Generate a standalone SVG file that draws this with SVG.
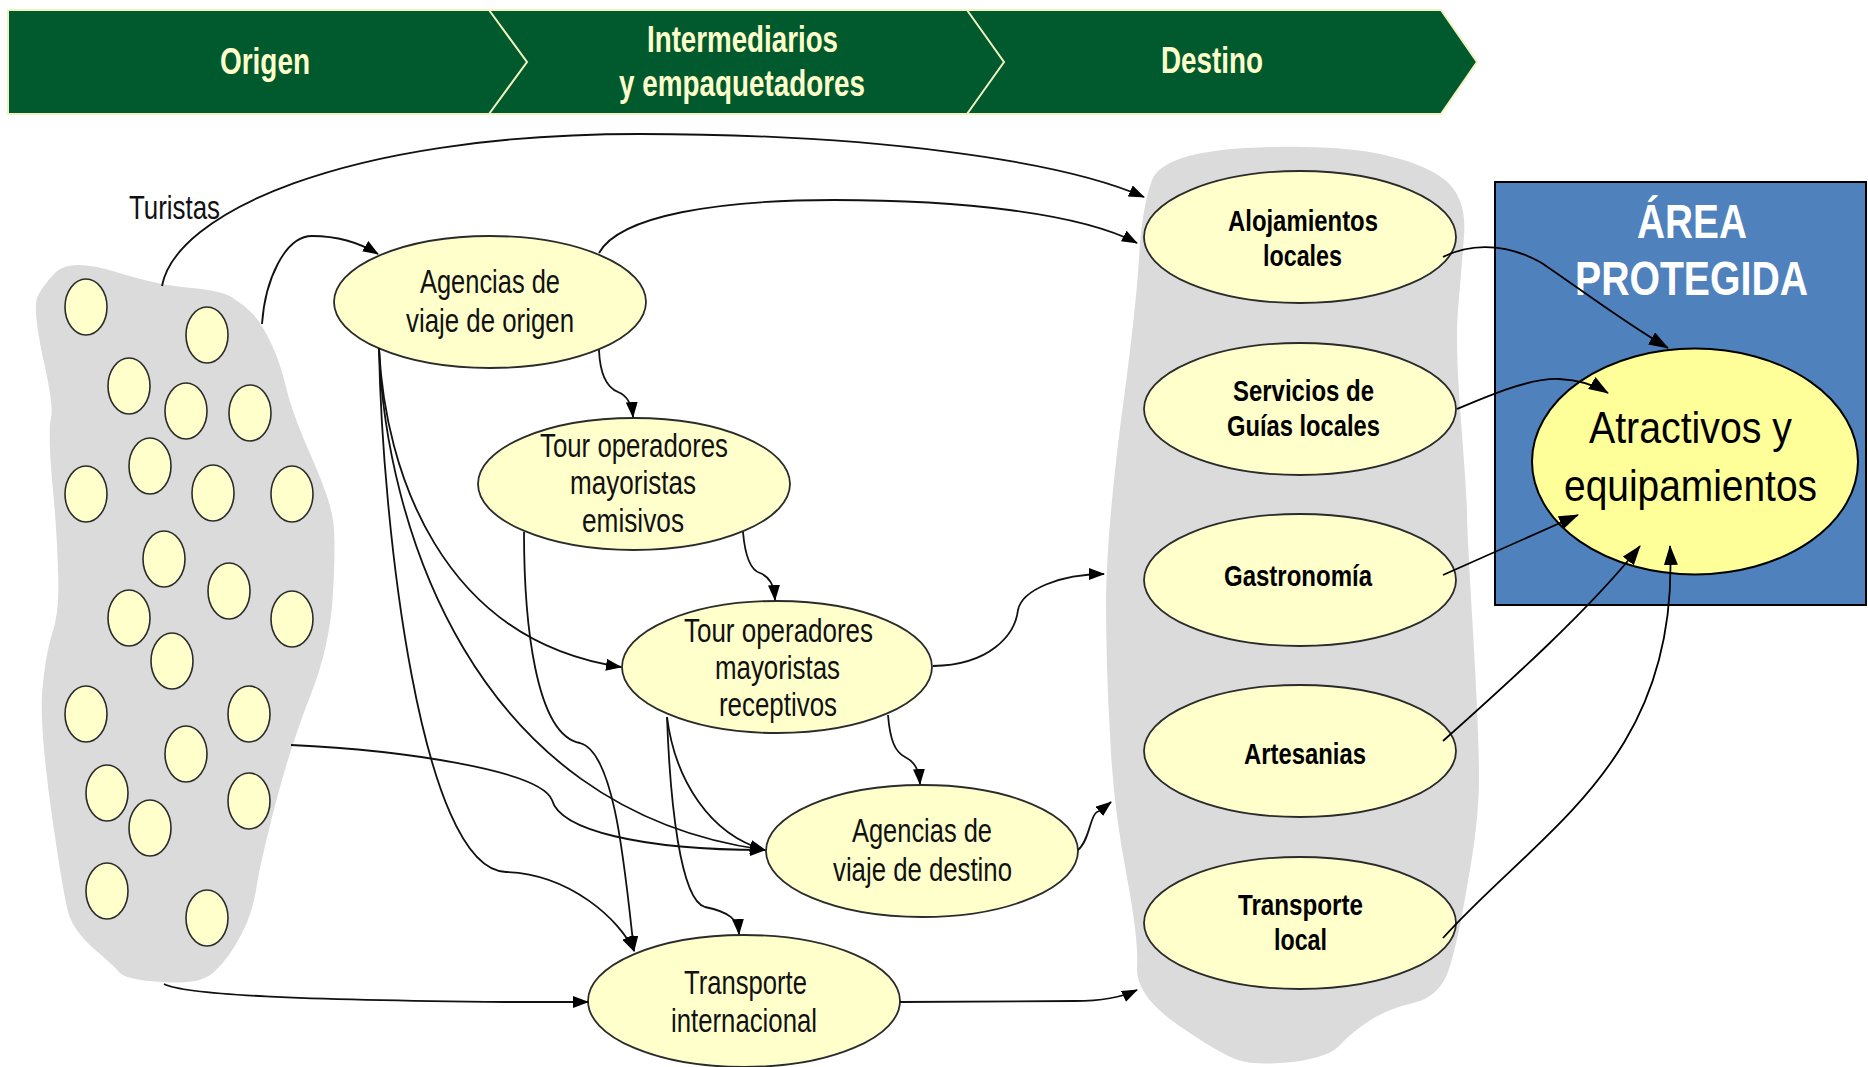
<svg xmlns="http://www.w3.org/2000/svg" width="1868" height="1067" viewBox="0 0 1868 1067">
<defs>
<style>
text{font-family:"Liberation Sans",Arial,sans-serif;text-anchor:start}
.n{fill:#FFFFCC;stroke:#2b2b2b;stroke-width:1.8}
.t{fill:#FFFFCC;stroke:#2b2b2b;stroke-width:1.6}
.blob{fill:#DBDBDB}
.r{font-size:34px;fill:#111}
.b{font-size:30px;font-weight:bold;fill:#000}
.h{font-size:37px;font-weight:bold;fill:#FFFFCC}
.a{font-size:49px;font-weight:bold;fill:#fff}
.y{font-size:45px;fill:#000}
.c{fill:none;stroke:#111;stroke-width:1.8;marker-end:url(#m)}
.c2{fill:none;stroke:#000;stroke-width:1.8;marker-end:url(#m2)}
</style>
<marker id="m" viewBox="0 0 16 12" refX="15" refY="6" markerWidth="16" markerHeight="12" markerUnits="userSpaceOnUse" orient="auto"><path d="M0 0L16 6L0 12Z" fill="#000"/></marker>
<marker id="m2" viewBox="0 0 20 14" refX="19" refY="7" markerWidth="20" markerHeight="14" markerUnits="userSpaceOnUse" orient="auto"><path d="M0 0L20 7L0 14Z" fill="#000"/></marker>
</defs>
<rect width="1868" height="1067" fill="#fff"/>
<g id="banner">
<path d="M8 10H1441L1477 62L1441 114H8Z" fill="#005A2E" stroke="#F2F2C0" stroke-width="2"/>
<path d="M489 10L527 62L489 114M967 10L1004 62L967 114" fill="none" stroke="#F2F2C0" stroke-width="2"/>
<text class="h" x="220" y="74" textLength="90" lengthAdjust="spacingAndGlyphs">Origen</text>
<text class="h" x="647" y="52" textLength="191" lengthAdjust="spacingAndGlyphs">Intermediarios</text>
<text class="h" x="619" y="96" textLength="246" lengthAdjust="spacingAndGlyphs">y empaquetadores</text>
<text class="h" x="1161" y="73" textLength="102" lengthAdjust="spacingAndGlyphs">Destino</text>
</g>
<path id="blob-origen" class="blob" d="M56 272Q71 258 116 272Q161 286 192 288Q223 291 233 298Q244 305 253 314Q262 324 271 343Q280 362 286 387Q292 413 311 456Q330 499 333 520Q336 540 333 593Q330 646 311 694Q292 742 277 798Q262 855 257 884Q253 913 241 935Q229 958 215 971Q202 985 164 982Q125 980 119 972Q113 965 93 948Q74 931 69 915Q64 900 52 816Q40 732 42 694Q45 657 52 634Q60 612 58 571Q57 530 52 480Q48 430 51 418Q54 406 43 358Q33 310 37 298Q42 286 56 272Z"/>
<path id="blob-destino" class="blob" d="M1152 180Q1163 153 1245 148Q1327 144 1375 153Q1422 162 1445 180Q1467 198 1464 236Q1461 275 1458 310Q1455 344 1461 421Q1467 499 1467 515Q1467 530 1473 632Q1479 735 1479 778Q1479 821 1468 881Q1458 941 1449 969Q1440 997 1413 1003Q1387 1009 1369 1021Q1351 1033 1340 1045Q1330 1057 1293 1062Q1256 1066 1238 1060Q1220 1054 1178 1025Q1136 996 1137 968Q1139 941 1126 872Q1113 804 1110 735Q1106 667 1106 598Q1107 530 1121 420Q1136 310 1139 258Q1142 207 1152 180Z"/>
<g id="turistas">
<text class="r" x="129" y="219" textLength="91" lengthAdjust="spacingAndGlyphs">Turistas</text>
<ellipse class="t" cx="86" cy="307" rx="21" ry="28"/><ellipse class="t" cx="207" cy="335" rx="21" ry="28"/>
<ellipse class="t" cx="129" cy="386" rx="21" ry="28"/><ellipse class="t" cx="186" cy="411" rx="21" ry="28"/>
<ellipse class="t" cx="250" cy="413" rx="21" ry="28"/><ellipse class="t" cx="150" cy="466" rx="21" ry="28"/>
<ellipse class="t" cx="86" cy="494" rx="21" ry="28"/><ellipse class="t" cx="213" cy="493" rx="21" ry="28"/>
<ellipse class="t" cx="292" cy="494" rx="21" ry="28"/><ellipse class="t" cx="164" cy="559" rx="21" ry="28"/>
<ellipse class="t" cx="229" cy="591" rx="21" ry="28"/><ellipse class="t" cx="129" cy="618" rx="21" ry="28"/>
<ellipse class="t" cx="292" cy="619" rx="21" ry="28"/><ellipse class="t" cx="172" cy="661" rx="21" ry="28"/>
<ellipse class="t" cx="86" cy="714" rx="21" ry="28"/><ellipse class="t" cx="249" cy="714" rx="21" ry="28"/>
<ellipse class="t" cx="186" cy="754" rx="21" ry="28"/><ellipse class="t" cx="107" cy="793" rx="21" ry="28"/>
<ellipse class="t" cx="249" cy="801" rx="21" ry="28"/><ellipse class="t" cx="150" cy="828" rx="21" ry="28"/>
<ellipse class="t" cx="107" cy="891" rx="21" ry="28"/><ellipse class="t" cx="207" cy="918" rx="21" ry="28"/>
</g>
<g id="agencias-origen"><ellipse class="n" cx="490" cy="302" rx="156" ry="66"/>
<text class="r" x="420" y="293" textLength="140" lengthAdjust="spacingAndGlyphs">Agencias de</text>
<text class="r" x="406" y="332" textLength="168" lengthAdjust="spacingAndGlyphs">viaje de origen</text></g>
<g id="tour-emisivos"><ellipse class="n" cx="634" cy="484" rx="156" ry="66"/>
<text class="r" x="540" y="457" textLength="188" lengthAdjust="spacingAndGlyphs">Tour operadores</text>
<text class="r" x="570" y="494" textLength="126" lengthAdjust="spacingAndGlyphs">mayoristas</text>
<text class="r" x="582" y="532" textLength="102" lengthAdjust="spacingAndGlyphs">emisivos</text></g>
<g id="tour-receptivos"><ellipse class="n" cx="777" cy="667" rx="155" ry="66"/>
<text class="r" x="684" y="642" textLength="189" lengthAdjust="spacingAndGlyphs">Tour operadores</text>
<text class="r" x="715" y="679" textLength="125" lengthAdjust="spacingAndGlyphs">mayoristas</text>
<text class="r" x="719" y="716" textLength="118" lengthAdjust="spacingAndGlyphs">receptivos</text></g>
<g id="agencias-destino"><ellipse class="n" cx="922" cy="851" rx="156" ry="66"/>
<text class="r" x="852" y="842" textLength="140" lengthAdjust="spacingAndGlyphs">Agencias de</text>
<text class="r" x="833" y="881" textLength="179" lengthAdjust="spacingAndGlyphs">viaje de destino</text></g>
<g id="transporte-internacional"><ellipse class="n" cx="744" cy="1001" rx="156" ry="66"/>
<text class="r" x="684" y="994" textLength="123" lengthAdjust="spacingAndGlyphs">Transporte</text>
<text class="r" x="671" y="1032" textLength="146" lengthAdjust="spacingAndGlyphs">internacional</text></g>
<g id="alojamientos"><ellipse class="n" cx="1300" cy="237" rx="156" ry="66"/>
<text class="b" x="1228" y="231" textLength="150" lengthAdjust="spacingAndGlyphs">Alojamientos</text>
<text class="b" x="1263" y="266" textLength="79" lengthAdjust="spacingAndGlyphs">locales</text></g>
<g id="guias"><ellipse class="n" cx="1300" cy="409" rx="156" ry="66"/>
<text class="b" x="1233" y="401" textLength="141" lengthAdjust="spacingAndGlyphs">Servicios de</text>
<text class="b" x="1227" y="436" textLength="153" lengthAdjust="spacingAndGlyphs">Guías locales</text></g>
<g id="gastronomia"><ellipse class="n" cx="1300" cy="580" rx="156" ry="66"/>
<text class="b" x="1224" y="586" textLength="148" lengthAdjust="spacingAndGlyphs">Gastronomía</text></g>
<g id="artesanias"><ellipse class="n" cx="1300" cy="751" rx="156" ry="66"/>
<text class="b" x="1244" y="764" textLength="122" lengthAdjust="spacingAndGlyphs">Artesanias</text></g>
<g id="transporte-local"><ellipse class="n" cx="1300" cy="923" rx="156" ry="66"/>
<text class="b" x="1238" y="915" textLength="125" lengthAdjust="spacingAndGlyphs">Transporte</text>
<text class="b" x="1274" y="950" textLength="53" lengthAdjust="spacingAndGlyphs">local</text></g>
<g id="area-protegida">
<rect x="1495" y="182" width="371" height="423" fill="#4F81BD" stroke="#000" stroke-width="2"/>
<text class="a" x="1637" y="238" textLength="110" lengthAdjust="spacingAndGlyphs">ÁREA</text>
<text class="a" x="1575" y="295" textLength="233" lengthAdjust="spacingAndGlyphs">PROTEGIDA</text>
</g>
<g id="atractivos"><ellipse cx="1695" cy="461.5" rx="163" ry="113" fill="#FFFF99" stroke="#000" stroke-width="2"/>
<text class="y" x="1589" y="443" textLength="203" lengthAdjust="spacingAndGlyphs">Atractivos y</text>
<text class="y" x="1564" y="501" textLength="253" lengthAdjust="spacingAndGlyphs">equipamientos</text></g>
<g id="connectors">
<path class="c" d="M162 286C175 215 340 134 640 134C870 134 1060 160 1144 197"/>
<path class="c" d="M262 324C265 280 285 236 312 236C340 236 360 243 378 254"/>
<path class="c" d="M599 253C620 215 720 200 834 200C960 200 1080 213 1137 243"/>
<path class="c" d="M599 350C600 375 608 388 618 392C628 396 632 405 633 417"/>
<path class="c" d="M379 348C385 470 440 640 621 667"/>
<path class="c" d="M379 348C385 520 470 810 765 850"/>
<path class="c" d="M379 348C382 520 420 870 506 872C570 874 620 920 634 951"/>
<path class="c" d="M524 532C524 620 535 735 580 743C615 752 625 870 634 951"/>
<path class="c" d="M743 532C745 555 750 570 760 573C770 577 774 585 775 600"/>
<path class="c" d="M291 745C400 750 540 770 552 800C560 830 640 850 765 850"/>
<path class="c" d="M888 715C890 740 895 752 905 757C915 762 919 770 920 784"/>
<path class="c" d="M667 717C670 800 680 900 705 907C730 912 738 920 739 934"/>
<path class="c" d="M667 717C675 780 710 835 765 850"/>
<path class="c" d="M933 666C990 665 1015 635 1018 610C1022 590 1060 574 1104 574"/>
<path class="c" d="M1078 850C1090 840 1090 815 1097 812C1102 810 1106 806 1111 802"/>
<path class="c" d="M900 1002L1075 1001C1100 1001 1120 998 1137 990"/>
<path class="c" d="M164 984C185 995 300 1000 506 1002L588 1002"/>
<path class="c2" d="M1443 257C1465 246 1500 240 1540 262C1565 278 1620 320 1668 348"/>
<path class="c2" d="M1457 409C1490 395 1530 378 1559 379C1580 380 1595 385 1608 393"/>
<path class="c2" d="M1443 575L1578 515"/>
<path class="c2" d="M1443 741C1500 690 1590 610 1640 546"/>
<path class="c2" d="M1443 938C1540 830 1680 760 1670 546"/>
</g>
</svg>
